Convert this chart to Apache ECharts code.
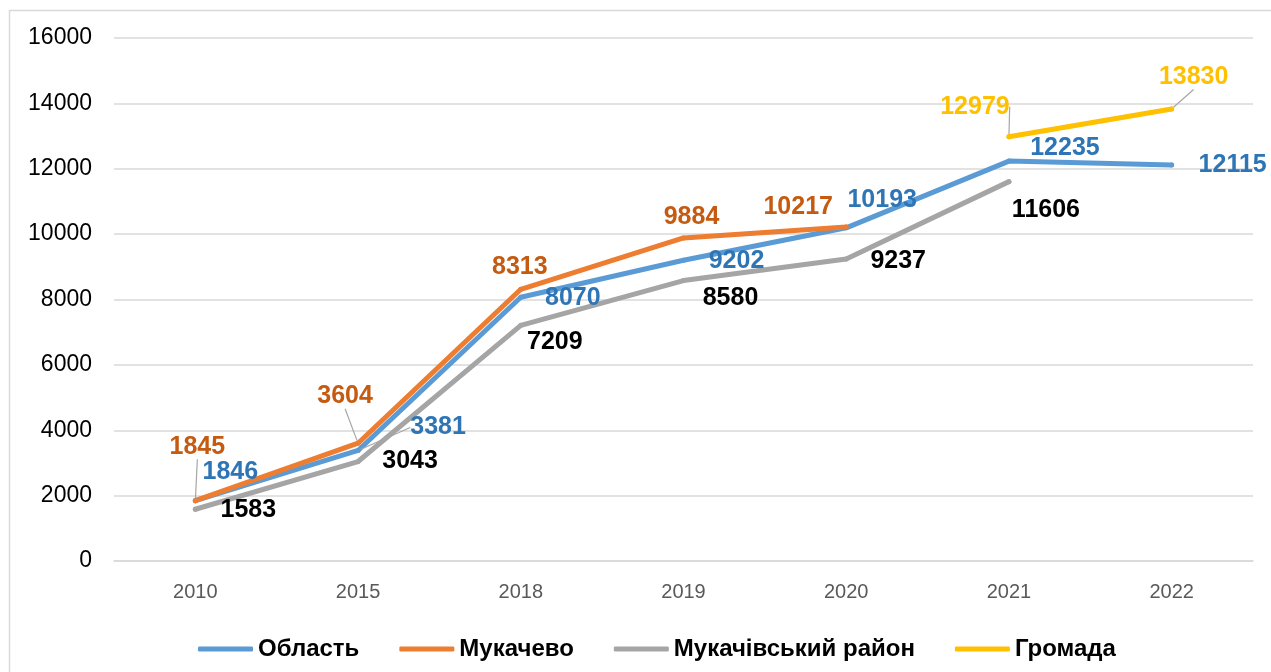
<!DOCTYPE html>
<html>
<head>
<meta charset="utf-8">
<script src="https://cdn.jsdelivr.net/npm/echarts@6/dist/echarts.min.js"></script>
<style>html,body{margin:0;padding:0;background:#fff;}#c{width:1271px;height:672px;}</style>
</head>
<body>
<div id="c"></div>
<script>
const categories = ['2010', '2015', '2018', '2019', '2020', '2021', '2022'];
const seriesNames = ['Область', 'Мукачево', 'Мукачівський район', 'Громада'];
const oblast = [1846, 3381, 8070, 9202, 10193, 12235, 12115];
const mukachevo = [1845, 3604, 8313, 9884, 10217, null, null];
const raion = [1583, 3043, 7209, 8580, 9237, 11606, null];
const hromada = [null, null, null, null, null, 12979, 13830];
const yTicks = { min: 0, max: 16000, interval: 2000 };

// label placement (offset of label centre from its point), kept apart from data
const labelOffsets = [
  [[35,-29],[80,-23],[52,1],[53,1],[36,-28],[56,-13],[61,0]],
  [[2,-54],[-13,-47],[-1,-22],[8,-21],[-48,-20],null,null],
  [[53,1],[52,0],[34,17],[47,18],[52,2],[37,28],null],
  [null,null,null,null,null,[-34,-30],[22,-32]]
];
const leaders = [
  [false,true,false,false,false,false,false],
  [true,true,false,false,false,false,false],
  [false,false,false,false,false,false,false],
  [false,false,false,false,false,true,true]
];
const lineColors = ['#5B9BD5', '#ED7D31', '#A5A5A5', '#FFC000'];
const labelColors = ['#2E75B6', '#C55A11', '#000000', '#FFC000'];
const allData = [oblast, mukachevo, raion, hromada];

const chart = echarts.init(document.getElementById('c'));
const series = allData.map((arr, si) => ({
  name: seriesNames[si],
  type: 'line',
  data: arr.map((v, i) => ({
    value: v,
    labelLine: { show: leaders[si][i], lineStyle: { color: '#A6A6A6', width: 1.2 } }
  })),
  color: lineColors[si],
  symbol: 'circle',
  symbolSize: 5,
  showSymbol: true,
  connectNulls: false,
  lineStyle: { width: 5, color: lineColors[si], cap: 'round', join: 'round' },
  itemStyle: { color: lineColors[si] },
  emphasis: { disabled: true },
  label: {
    show: true,
    position: 'inside',
    color: labelColors[si],
    fontFamily: 'Liberation Sans, Arial, sans-serif',
    fontWeight: 'bold',
    fontSize: 25
  },
  labelLine: { show: false, lineStyle: { color: '#A6A6A6', width: 1.2 } },
  labelLayout: function (p) {
    const o = labelOffsets[si][p.dataIndex] || [0, 0];
    return {
      x: p.rect.x + p.rect.width / 2 + o[0],
      y: p.rect.y + p.rect.height / 2 + o[1],
      align: 'center',
      verticalAlign: 'middle'
    };
  }
}));

chart.setOption({
  animation: false,
  backgroundColor: '#fff',
  graphic: [{
    type: 'rect',
    shape: { x: 9.5, y: 10.5, width: 1300, height: 700 },
    style: { fill: 'none', stroke: '#D9D9D9', lineWidth: 1.5 },
    silent: true
  }],
  grid: { left: 114, right: 18, top: 38, bottom: 111, containLabel: false },
  legend: {
    data: seriesNames,
    top: 632,
    left: 193,
    icon: 'roundRect',
    itemWidth: 55,
    itemHeight: 5,
    itemGap: 40,
    textStyle: {
      fontFamily: 'Liberation Sans, Arial, sans-serif',
      fontWeight: 'bold',
      fontSize: 24,
      color: '#000'
    }
  },
  xAxis: {
    type: 'category',
    data: categories,
    boundaryGap: true,
    axisLine: { show: true, lineStyle: { color: '#D9D9D9', width: 1.5 } },
    axisTick: { show: false },
    axisLabel: {
      color: '#595959',
      fontFamily: 'Liberation Sans, Arial, sans-serif',
      fontSize: 20,
      margin: 21
    }
  },
  yAxis: {
    type: 'value',
    min: yTicks.min,
    max: yTicks.max,
    interval: yTicks.interval,
    axisLine: { show: false },
    axisTick: { show: false },
    splitLine: { lineStyle: { color: '#D9D9D9', width: 1.5 } },
    axisLabel: {
      color: '#000',
      fontFamily: 'Liberation Sans, Arial, sans-serif',
      fontSize: 23,
      margin: 22,
      formatter: function (v) { return String(v); }
    }
  },
  series: series
});
</script>
</body>
</html>
